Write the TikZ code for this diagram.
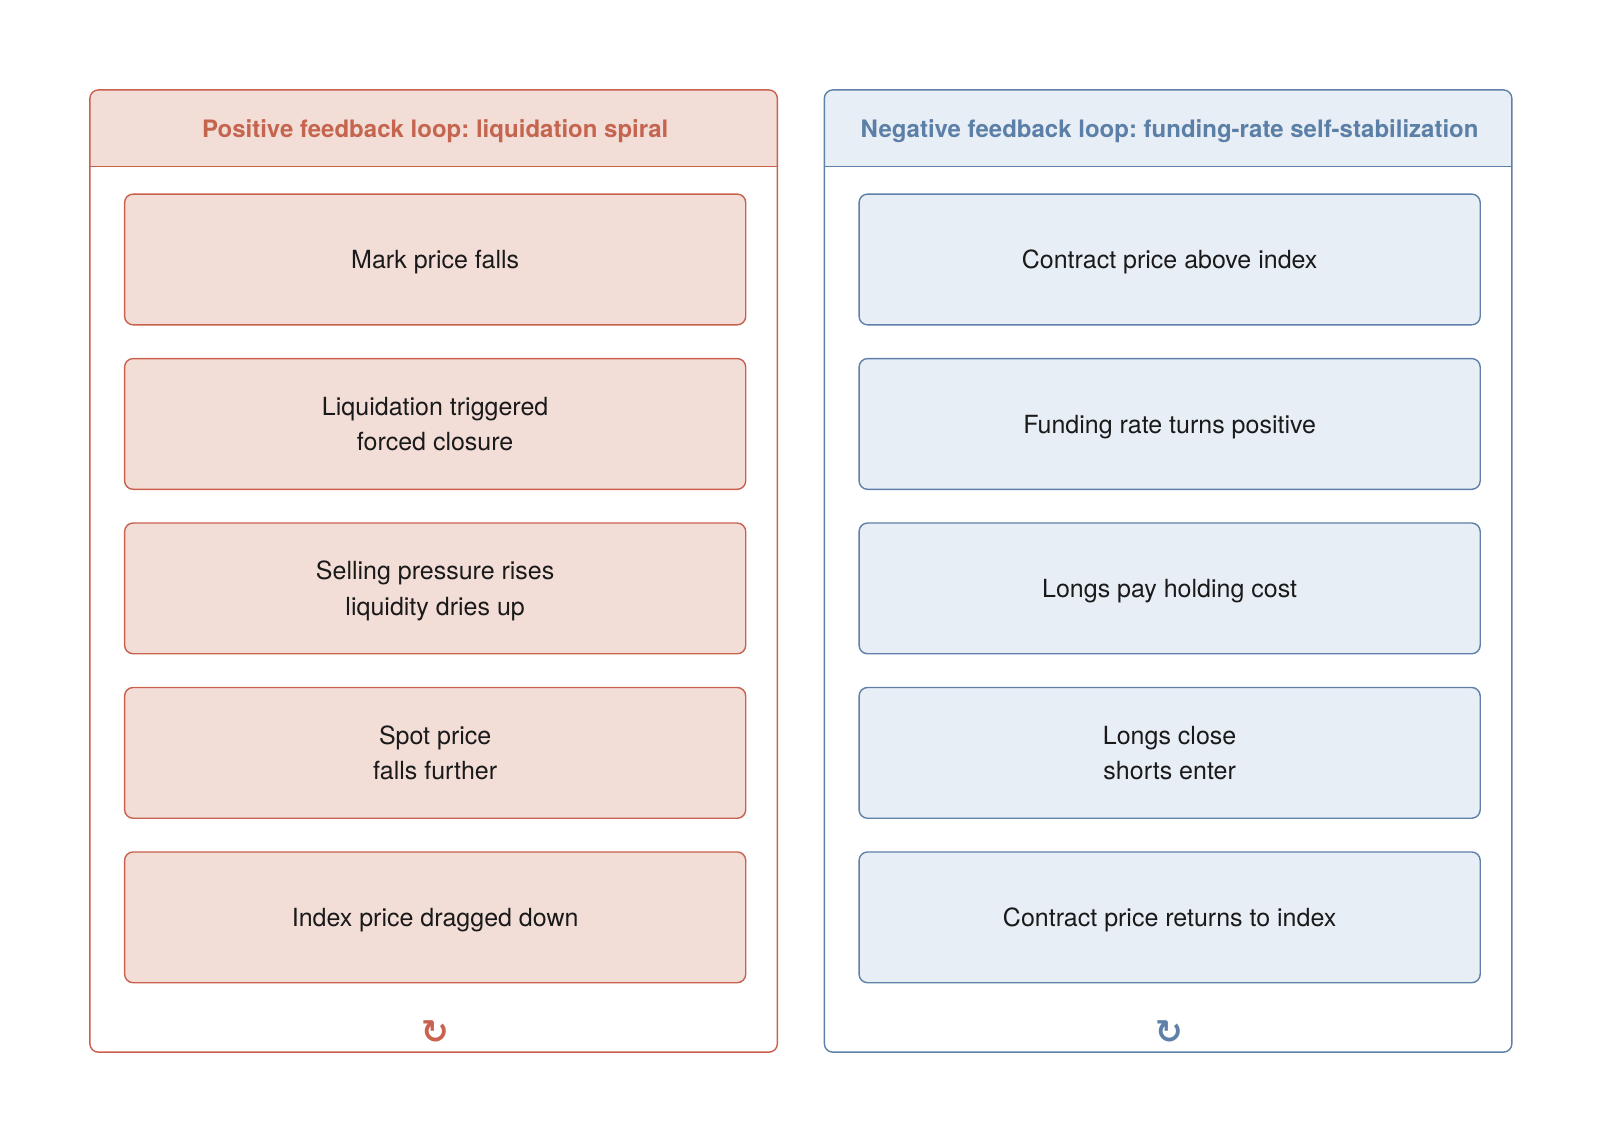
\documentclass[tikz,border=0pt]{standalone}
\usepackage{fontspec}
\setmainfont{TeX Gyre Heros}
\newfontfamily\symfont{DejaVu Sans}
\definecolor{redline}{HTML}{C8624E}
\definecolor{redfill}{HTML}{F2DDD7}
\definecolor{redtext}{HTML}{C5654F}
\definecolor{blueline}{HTML}{5F80A8}
\definecolor{bluefill}{HTML}{E8EEF6}
\definecolor{bluetext}{HTML}{5B7FA6}
\definecolor{bodytext}{HTML}{1A1A1A}
\tikzset{
  boxbase/.style={line width=1.4pt, rounded corners=8.5pt, minimum width=621.1pt, minimum height=130.75pt, align=center, text=bodytext, font=\fontsize{25}{35.5}\selectfont, inner sep=0pt, text depth=0pt},
  redbox/.style={boxbase, draw=redline, fill=redfill},
  bluebox/.style={boxbase, draw=blueline, fill=bluefill},
  titletext/.style={font=\bfseries\fontsize{24}{28}\selectfont},
  loopsym/.style={font=\symfont\bfseries\fontsize{33}{36}\selectfont},
  panelline/.style={line width=1.4pt},
}
\frenchspacing
\begin{document}
\begin{tikzpicture}[x=1.0215pt,y=-1.0215pt]
\useasboundingbox (0,0) rectangle (1566.3,1118);
\fill[white] (0,0) rectangle (1566.3,1118);
% left panel
\fill[redfill, rounded corners=8.5pt] (88,163) -- (88,88) -- (761,88) -- (761,163) -- cycle;
\fill[redfill] (88,140) rectangle (761,163);
\draw[redline, panelline] (88,163) -- (761,163);
\draw[redline, panelline, rounded corners=8.5pt] (88,88) rectangle (761,1030);
\node[titletext, text=redtext] (lt) at (426,128) {Positive feedback loop: liquidation spiral};
\node[redbox] (l1) at (426,254) {Mark price falls};
\node[redbox] (l2) at (426,415) {Liquidation triggered\\forced closure};
\node[redbox] (l3) at (426,576) {Selling pressure rises\\liquidity dries up};
\node[redbox] (l4) at (426,737) {Spot price\\falls further};
\node[redbox] (l5) at (426,898) {Index price dragged down};
\node[loopsym, text=redline] (ls) at (426,1010) {↻};
% right panel
\fill[bluefill, rounded corners=8.5pt] (807,163) -- (807,88) -- (1480,88) -- (1480,163) -- cycle;
\fill[bluefill] (807,140) rectangle (1480,163);
\draw[blueline, panelline] (807,163) -- (1480,163);
\draw[blueline, panelline, rounded corners=8.5pt] (807,88) rectangle (1480,1030);
\node[titletext, text=bluetext] (rt) at (1145,128) {Negative feedback loop: funding-rate self-stabilization};
\node[bluebox] (r1) at (1145,254) {Contract price above index};
\node[bluebox] (r2) at (1145,415) {Funding rate turns positive};
\node[bluebox] (r3) at (1145,576) {Longs pay holding cost};
\node[bluebox] (r4) at (1145,737) {Longs close\\shorts enter};
\node[bluebox] (r5) at (1145,898) {Contract price returns to index};
\node[loopsym, text=blueline] (rs) at (1145,1010) {↻};
\end{tikzpicture}
\end{document}
